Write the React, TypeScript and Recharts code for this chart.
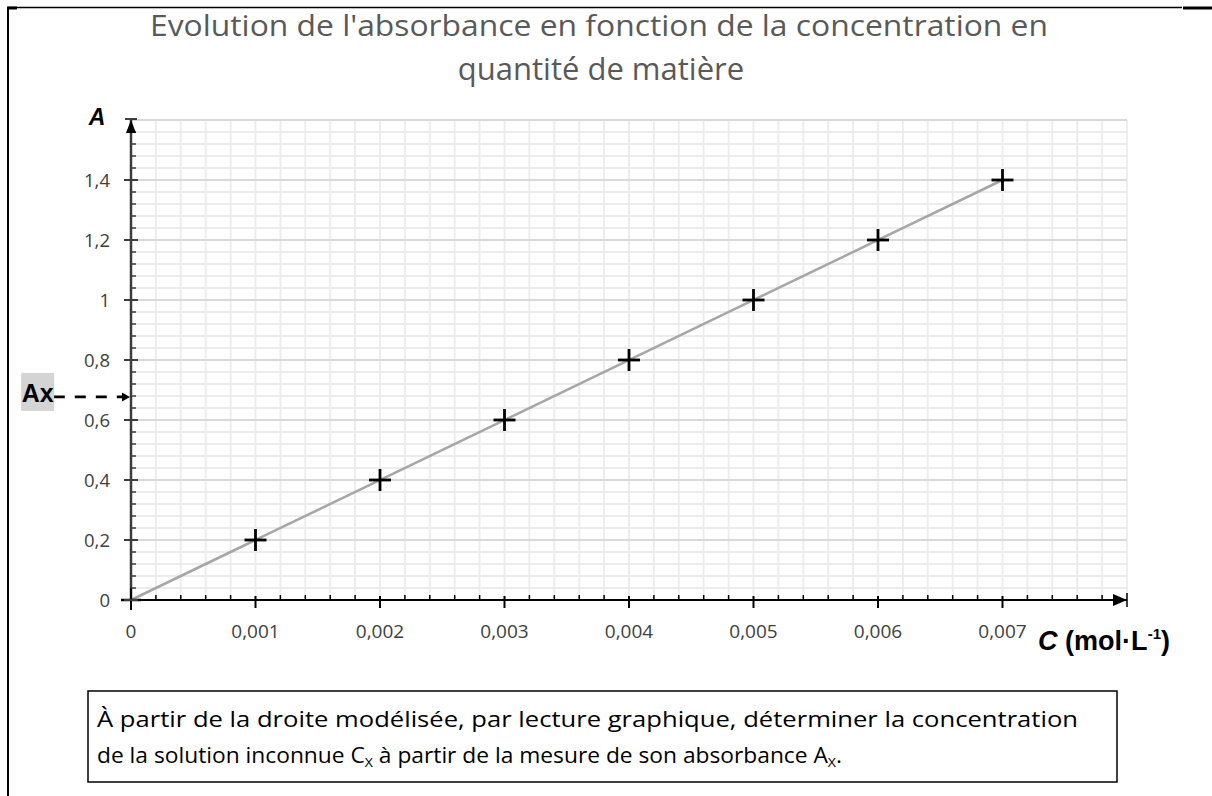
import React from 'react';
import {
  ComposedChart,
  XAxis,
  YAxis,
  CartesianGrid,
  Line,
  Scatter,
  ReferenceLine,
  ReferenceDot,
} from 'recharts';

// ---- data ----
const concentrations = [0.001, 0.002, 0.003, 0.004, 0.005, 0.006, 0.007];
const absorbances = [0.2, 0.4, 0.6, 0.8, 1.0, 1.2, 1.4];
const fitConcentrations = [0, 0.007];
const fitAbsorbances = [0, 1.4];

const xMajorTicks = [0, 0.001, 0.002, 0.003, 0.004, 0.005, 0.006, 0.007];
const xTickLabels = ['0', '0,001', '0,002', '0,003', '0,004', '0,005', '0,006', '0,007'];
const yMajorTicks = [0, 0.2, 0.4, 0.6, 0.8, 1.0, 1.2, 1.4];
const yTickLabels = ['0', '0,2', '0,4', '0,6', '0,8', '1', '1,2', '1,4'];
const yGridMajor = [0.2, 0.4, 0.6, 0.8, 1.0, 1.2, 1.4, 1.6];

const xMax = 0.008;
const yMax = 1.6;
const axValue = 0.677;
const axLineStart = -0.00062;
const axLabelX = -0.00075;

const xMinorTicks = Array.from({ length: 41 }, (_, i) => +(i * 0.0002).toFixed(4));
const yMinorTicks = Array.from({ length: 41 }, (_, i) => +(i * 0.04).toFixed(2));

const points = concentrations.map((c, i) => ({ c, a: absorbances[i] }));
const fit = fitConcentrations.map((c, i) => ({ c, a: fitAbsorbances[i] }));

const FONT = '"Open Sans", "Liberation Sans", sans-serif';
const BOLD_FONT = '"Liberation Sans", Arial, sans-serif';
const AXIS_COLOR = '#3c3c3c';
const LABEL_COLOR = '#404040';

const near = (a: number, b: number) => Math.abs(a - b) < 1e-9;

const XTick = (props: any) => {
  const { x, y, payload } = props;
  const v = payload.value;
  const cx = payload.coordinate ?? x;
  if (near(v, xMax)) {
    return (
      <g>
        <polygon points={`${cx},${y} ${cx - 14},${y - 6} ${cx - 14},${y + 6}`} fill="#000" />
        <line x1={cx} y1={y - 7} x2={cx} y2={y + 7} stroke="#000" strokeWidth={1.5} />
      </g>
    );
  }
  const mi = xMajorTicks.findIndex((m) => near(m, v));
  if (mi >= 0) {
    const isZero = mi === 0;
    return (
      <g>
        <line x1={cx} y1={isZero ? y - 12 : y - 4} x2={cx} y2={isZero ? y + 10 : y + 8} stroke="#000" strokeWidth={2} />
        {isZero && <line x1={cx - 10} y1={y} x2={cx + 10} y2={y} stroke="#000" strokeWidth={2.5} />}
        <text x={cx} y={y + 38} textAnchor="middle" fontFamily={FONT} fontSize={19} fill={LABEL_COLOR}>
          {xTickLabels[mi]}
        </text>
      </g>
    );
  }
  return <line x1={cx} y1={y} x2={cx} y2={y - 5} stroke="#000" strokeWidth={1.5} />;
};

const YTick = (props: any) => {
  const { x, y, payload } = props;
  const v = payload.value;
  const cy = payload.coordinate ?? y;
  if (near(v, yMax)) {
    return (
      <g>
        <line x1={x - 6} y1={cy - 1} x2={x + 6} y2={cy - 1} stroke="#000" strokeWidth={1.5} />
        <polygon points={`${x},${cy} ${x - 5},${cy + 13} ${x + 5},${cy + 13}`} fill="#000" />
      </g>
    );
  }
  const mi = yMajorTicks.findIndex((m) => near(m, v));
  if (mi >= 0) {
    return (
      <g>
        <line x1={x - 7} y1={cy} x2={x + 7} y2={cy} stroke={AXIS_COLOR} strokeWidth={2} />
        <text x={x - 21} y={cy + 7} textAnchor="end" fontFamily={FONT} fontSize={18.5} fill={LABEL_COLOR}>
          {yTickLabels[mi]}
        </text>
      </g>
    );
  }
  return <line x1={x} y1={cy} x2={x + 5} y2={cy} stroke={AXIS_COLOR} strokeWidth={1.5} />;
};

const PlusMarker = (props: any) => {
  const { cx, cy } = props;
  if (cx == null || cy == null) return <g />;
  return (
    <g>
      <line x1={cx - 11} y1={cy} x2={cx + 11} y2={cy} stroke="#000" strokeWidth={2.8} />
      <line x1={cx} y1={cy - 11} x2={cx} y2={cy + 11} stroke="#000" strokeWidth={2.8} />
    </g>
  );
};

const AxArrow = (props: any) => {
  const { cx, cy } = props;
  return <polygon points={`${cx - 1},${cy} ${cx - 9},${cy - 4.5} ${cx - 9},${cy + 4.5}`} fill="#000" />;
};

const AxLabel = (props: any) => {
  const { cx, cy } = props;
  return (
    <g>
      <rect x={cx - 16.5} y={cy - 24} width={33} height={38} fill="#d4d4d4" />
      <text
        x={cx - 16}
        y={cy + 5}
        fontFamily={BOLD_FONT}
        fontWeight="bold"
        fontSize={25}
        fill="#000"
        textLength={32}
        lengthAdjust="spacingAndGlyphs"
      >
        Ax
      </text>
    </g>
  );
};

export default function App() {
  return (
    <div style={{ position: 'absolute', left: 0, top: 0, width: 1212, height: 796, background: '#fff' }}>
      <ComposedChart
        width={1212}
        height={796}
        margin={{ top: 120, right: 85, bottom: 166, left: 71 }}
        style={{ position: 'absolute', left: 0, top: 0 }}
      >
        <CartesianGrid stroke="#ececec" strokeWidth={1.8} />
        {yGridMajor.map((v) => (
          <ReferenceLine key={`gy${v}`} y={v} stroke="#d9d9d9" strokeWidth={2} />
        ))}
        <XAxis
          type="number"
          dataKey="c"
          domain={[0, xMax]}
          ticks={xMinorTicks}
          interval={0}
          height={30}
          tickSize={0}
          tickMargin={0}
          tickLine={false}
          axisLine={{ stroke: '#000', strokeWidth: 2 }}
          tick={<XTick />}
        />
        <YAxis
          type="number"
          dataKey="a"
          domain={[0, yMax]}
          ticks={yMinorTicks}
          interval={0}
          width={60}
          tickSize={0}
          tickMargin={0}
          tickLine={false}
          axisLine={{ stroke: AXIS_COLOR, strokeWidth: 2.5 }}
          tick={<YTick />}
        />
        <Line
          data={fit}
          dataKey="a"
          stroke="#a6a6a6"
          strokeWidth={2.5}
          dot={false}
          activeDot={false}
          isAnimationActive={false}
        />
        <Scatter data={points} dataKey="a" shape={<PlusMarker />} isAnimationActive={false} />
        <ReferenceLine
          segment={[
            { x: axLineStart, y: axValue },
            { x: -0.00006, y: axValue },
          ]}
          stroke="#000"
          strokeWidth={2.8}
          strokeDasharray="11 10"
          ifOverflow="visible"
        />
        <ReferenceDot x={0} y={axValue} ifOverflow="visible" shape={<AxArrow />} />
        <ReferenceDot x={axLabelX} y={axValue} ifOverflow="visible" shape={<AxLabel />} />
      </ComposedChart>

      <svg
        width={1212}
        height={796}
        style={{ position: 'absolute', left: 0, top: 0, pointerEvents: 'none' }}
      >
        {/* frame */}
        <line x1={8} y1={7} x2={8} y2={796} stroke="#000" strokeWidth={2} />
        <line x1={8} y1={7.5} x2={1182} y2={7.5} stroke="#000" strokeWidth={1.5} />
        <line x1={7} y1={8} x2={17} y2={8} stroke="#000" strokeWidth={3} />
        <line x1={1183} y1={8} x2={1212} y2={8} stroke="#000" strokeWidth={3} />

        {/* title */}
        <text x={150} y={36} fontFamily={FONT} fontSize={30} fill="#595959" textLength={898} lengthAdjust="spacingAndGlyphs">
          Evolution de l'absorbance en fonction de la concentration en
        </text>
        <text x={601} y={80} textAnchor="middle" fontFamily={FONT} fontSize={31} fill="#595959">
          quantité de matière
        </text>

        {/* axis titles */}
        <text x={97} y={125} textAnchor="middle" fontFamily={BOLD_FONT} fontWeight="bold" fontStyle="italic" fontSize={23} fill="#000">
          A
        </text>
        <text
          x={1038}
          y={650}
          fontFamily={BOLD_FONT}
          fontWeight="bold"
          fontSize={27}
          fill="#000"
          textLength={132}
          lengthAdjust="spacingAndGlyphs"
        >
          <tspan fontStyle="italic">C</tspan>
          <tspan> (mol·L</tspan>
          <tspan fontSize={15} dy={-11}>-1</tspan>
          <tspan dy={11}>)</tspan>
        </text>

        {/* instruction box */}
        <rect x={88} y={691} width={1029} height={91} fill="#fff" stroke="#000" strokeWidth={1.5} />
        <text x={97} y={727} fontFamily={FONT} fontSize={21} fill="#000" textLength={981} lengthAdjust="spacingAndGlyphs">
          À partir de la droite modélisée, par lecture graphique, déterminer la concentration
        </text>
        <text x={97} y={763} fontFamily={FONT} fontSize={21} fill="#000" textLength={745} lengthAdjust="spacingAndGlyphs">
          de la solution inconnue C<tspan fontSize={13} dy={4}>X</tspan>
          <tspan dy={-4}> à partir de la mesure de son absorbance A</tspan>
          <tspan fontSize={13} dy={4}>X</tspan>
          <tspan dy={-4}>.</tspan>
        </text>
      </svg>
    </div>
  );
}
